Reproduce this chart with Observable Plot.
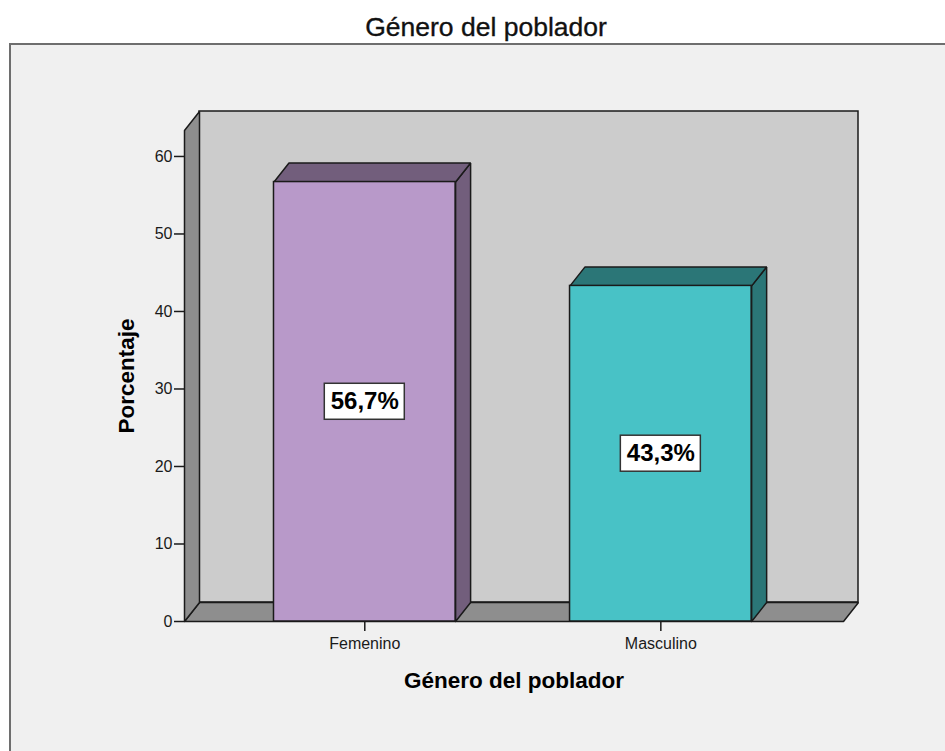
<!DOCTYPE html>
<html>
<head>
<meta charset="utf-8">
<script src="https://cdn.jsdelivr.net/npm/d3@7"></script>
<script src="https://cdn.jsdelivr.net/npm/@observablehq/plot@0.6"></script>
<style>
  html, body { margin: 0; padding: 0; background: #ffffff; }
  #wrap { position: relative; width: 945px; height: 751px; overflow: hidden; font-family: "Liberation Sans", Arial, sans-serif; }
  #title { position: absolute; left: 0; top: 14px; width: 972px; text-align: center; font-size: 26.5px; line-height: 26.5px; color: #111; white-space: nowrap; -webkit-text-stroke: 0.35px #111; }
  #frame { position: absolute; left: 9px; top: 43px; width: 940px; height: 712px; background: #f0f0f0; border-top: 2px solid #6e6e6e; border-left: 2px solid #6e6e6e; box-sizing: border-box; }
  #chart { position: absolute; left: 0; top: 43px; }
</style>
</head>
<body>
<div id="wrap">
  <div id="title">Género del poblador</div>
  <div id="frame"></div>
  <div id="chart"></div>
</div>
<script>
// ---- data ----
const categories = ["Femenino", "Masculino"];
const values = [56.7, 43.3];
const valueLabels = ["56,7%", "43,3%"];
const yTicks = [0, 10, 20, 30, 40, 50, 60];
const frontColors = ["#b899c9", "#48c2c6"];
const shadeColors = ["#725e7c", "#2b7677"];
const xTitle = "Género del poblador";
const yTitle = "Porcentaje";

// ---- layout ----
const W = 945, H = 708;
const mL = 184, mR = 102, mT = 87, mB = 130;
const X0 = -0.609, X1 = 1.617;
const yMax = 63.35;
const ux = (X1 - X0) / (W - mL - mR);   // data units per px (x)
const uy = yMax / (H - mT - mB);        // data units per px (y)
const HW = 90.8 * ux;                   // bar half width
const DX = 15 * ux, DY = 19 * uy;       // depth
const BW = 40 * ux, BH = 18 * uy;       // label box half sizes
const edge = "#1a1a1a";
const wallGray = "#8e8e8e";

const poly = (pts) => pts.concat([pts[0]]).map(([x, y]) => ({x, y}));

const floor = poly([[X0, 0], [X1, 0], [X1 + DX, DY], [X0 + DX, DY]]);
const leftWall = poly([[X0, 0], [X0, yMax], [X0 + DX, yMax + DY], [X0 + DX, DY]]);

const bars = categories.map((c, i) => ({cat: c, i, v: values[i], label: valueLabels[i]}));

const polyMark = (pts, fill) => Plot.line(pts, {x: "x", y: "y", fill, stroke: edge, strokeWidth: 1.5, strokeLinejoin: "miter", curve: "linear"});

const marks = [
  // back wall
  Plot.rect([0], {x1: X0, x2: X1, y1: 0, y2: yMax, dx: 15, dy: -19, fill: "#cccccc", stroke: edge, strokeWidth: 1.5}),
  polyMark(floor, wallGray),
  polyMark(leftWall, wallGray)
];

bars.forEach((b) => {
  const side = poly([[b.i + HW, 0], [b.i + HW, b.v], [b.i + HW + DX, b.v + DY], [b.i + HW + DX, DY]]);
  const top = poly([[b.i - HW, b.v], [b.i + HW, b.v], [b.i + HW + DX, b.v + DY], [b.i - HW + DX, b.v + DY]]);
  marks.push(polyMark(side, shadeColors[b.i]));
  marks.push(polyMark(top, shadeColors[b.i]));
  marks.push(Plot.rect([b], {x1: d => d.i - HW, x2: d => d.i + HW, y1: 0, y2: d => d.v, fill: frontColors[b.i], stroke: edge, strokeWidth: 1.5}));
});

// value label boxes
marks.push(Plot.rect(bars, {x1: d => d.i - BW, x2: d => d.i + BW, y1: d => d.v / 2 - BH, y2: d => d.v / 2 + BH, fill: "white", stroke: "#333", strokeWidth: 1.5}));
marks.push(Plot.text(bars, {x: "i", y: d => d.v / 2, text: "label", fontSize: 24, fontWeight: "bold", fill: "#000"}));

// axes
marks.push(Plot.axisY({ticks: yTicks, tickSize: 10, tickPadding: 2, fontSize: 16, label: null, strokeWidth: 1.5}));
marks.push(Plot.axisX({ticks: [0, 1], tickFormat: d => categories[d], tickSize: 10, tickPadding: 6, fontSize: 16, label: null, strokeWidth: 1.5}));

// axis titles
marks.push(Plot.text([xTitle], {frameAnchor: "bottom", textAnchor: "middle", dy: 66.7, lineAnchor: "bottom", fontSize: 22.5, fontWeight: "bold", fill: "#000"}));
marks.push(Plot.text([yTitle], {frameAnchor: "left", textAnchor: "middle", dx: -51, rotate: -90, lineAnchor: "bottom", fontSize: 22.5, fontWeight: "bold", fill: "#000"}));

const chart = Plot.plot({
  width: W,
  height: H,
  marginLeft: mL,
  marginRight: mR,
  marginTop: mT,
  marginBottom: mB,
  x: {type: "linear", domain: [X0, X1]},
  y: {type: "linear", domain: [0, yMax]},
  style: {background: "transparent", color: "#1a1a1a", fontFamily: "'Liberation Sans', Arial, sans-serif", fontSize: "16px", overflow: "visible"},
  marks
});
document.getElementById("chart").appendChild(chart);
</script>
</body>
</html>
